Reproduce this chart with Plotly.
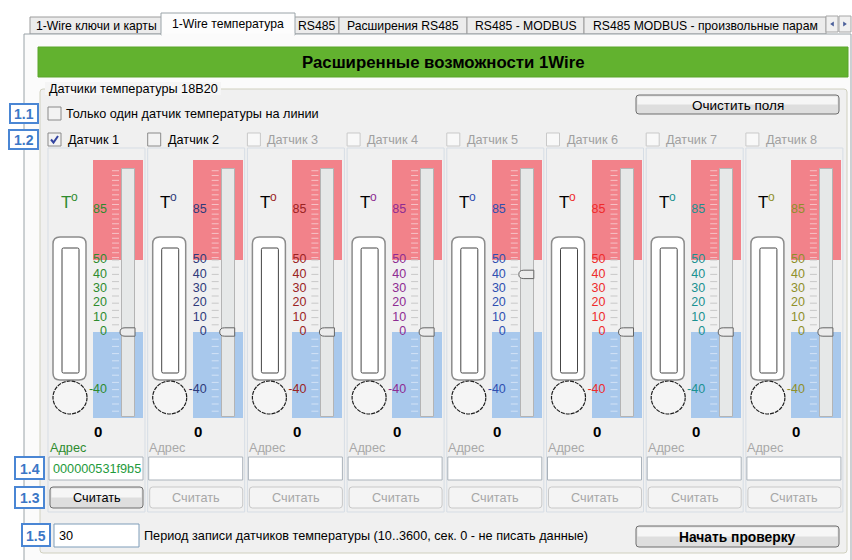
import plotly.graph_objects as go

# ---------------- data ----------------
tab_labels = ["1-Wire ключи и карты", "1-Wire температура", "RS485",
              "Расширения RS485", "RS485 - MODBUS", "RS485 MODBUS - произвольные парам"]
active_tab = 1
header_text = "Расширенные возможности 1Wire"
group_title = "Датчики температуры 18B20"
single_sensor_label = "Только один датчик температуры на линии"
clear_label = "Очистить поля"
start_label = "Начать проверку"
period_value = "30"
period_label = "Период записи датчиков температуры (10..3600, сек. 0 - не писать данные)"
address_caption = "Адрес"
read_label = "Считать"

sensor_names = ["Датчик 1", "Датчик 2", "Датчик 3", "Датчик 4",
                "Датчик 5", "Датчик 6", "Датчик 7", "Датчик 8"]
sensor_checked = [True, False, False, False, False, False, False, False]
sensor_enabled = [True, True, False, False, False, False, False, False]
readings = [0, 0, 0, 0, 0, 0, 0, 0]
slider_values = [0, 0, 0, 0, 40, 0, 0, 0]
addresses = ["000000531f9b5", "", "", "", "", "", "", ""]
scale_labels = [85, 50, 40, 30, 20, 10, 0, -40]
hot_zone = [50, 119.4]
cold_zone = [-59.7, 0]
track_range = [-59.0, 113.0]
callouts = ["1.1", "1.2", "1.3", "1.4", "1.5"]

# ---------------- styles / layout ----------------
W, H = 852, 560
Y_ZERO = 332.0
PX_PER_DEG = 1.44


def T_of(py):
    return (Y_ZERO - py) / PX_PER_DEG


COL_X0 = 48.0
PITCH = 99.7
FONT = "Liberation Sans, Arial, sans-serif"
FS = 12.7
TAB_FS = 12.2
label_colors = ["#2e8b2e", "#2f3a7a", "#9b2323", "#8e2c92",
                "#2f4fb0", "#ee2b2b", "#1a9191", "#8f8f2a"]
tab_edges = [30, 163, 293, 339, 467, 584, 826]
HOT = "#f2828a"
COLD = "#a8c8ec"
PANEL = "#f0f0f0"

shapes, annotations, traces = [], [], []


def rect(x0, y0, x1, y1, fill=None, line=None, lw=1, layer="below", dash=None):
    shapes.append(dict(type="rect", xref="x", yref="y", x0=x0, y0=y0, x1=x1, y1=y1,
                       fillcolor=fill or "rgba(0,0,0,0)",
                       line=dict(color=line or "rgba(0,0,0,0)", width=lw if line else 0,
                                 dash=dash or "solid"),
                       layer=layer))


def rrect(x0, y0, x1, y1, r, fill=None, line=None, lw=1, layer="below", yref="y"):
    p = (f"M {x0+r},{y0} L {x1-r},{y0} Q {x1},{y0} {x1},{y0+r} L {x1},{y1-r} "
         f"Q {x1},{y1} {x1-r},{y1} L {x0+r},{y1} Q {x0},{y1} {x0},{y1-r} "
         f"L {x0},{y0+r} Q {x0},{y0} {x0+r},{y0} Z")
    shapes.append(dict(type="path", path=p, xref="x", yref=yref,
                       fillcolor=fill or "rgba(0,0,0,0)",
                       line=dict(color=line or "rgba(0,0,0,0)", width=lw if line else 0),
                       layer=layer))


def path(p, fill=None, line=None, lw=1, layer="below", yref="y"):
    shapes.append(dict(type="path", path=p, xref="x", yref=yref,
                       fillcolor=fill or "rgba(0,0,0,0)",
                       line=dict(color=line or "rgba(0,0,0,0)", width=lw if line else 0),
                       layer=layer))


def text(x, y, s, size=FS, color="#000000", bold=False, xanchor="left", yanchor="middle"):
    annotations.append(dict(x=x, y=y, xref="x", yref="y",
                            text=f"<b>{s}</b>" if bold else s, showarrow=False,
                            xanchor=xanchor, yanchor=yanchor, borderpad=0,
                            font=dict(size=size, color=color, family=FONT)))


def button(x0, y0, x1, y1, label, enabled=True, bold=False, size=FS):
    if enabled:
        rrect(x0, y0, x1, y1, 3, "#dedede", "#6f6f6f", 1)
        rect(x0 + 1.5, y0 + 1.5, x1 - 1.5, (y0 + y1) / 2, "#f6f6f6")
        col = "#000000"
    else:
        rrect(x0, y0, x1, y1, 3, "#f4f4f4", "#c8c8c8", 1)
        col = "#a7a7a7"
    text((x0 + x1) / 2, (y0 + y1) / 2 + 0.5, label, size, col, bold, xanchor="center")


def checkbox(x0, y0, checked, enabled):
    rect(x0, y0, x0 + 13, y0 + 13, "#f3f3f3" if enabled else "#f8f8f8",
         "#8a8a8a" if enabled else "#c9c9c9", 1)
    if checked:
        path(f"M {x0+3},{y0+6.5} L {x0+5.5},{y0+9.5} L {x0+10},{y0+3}",
             line="#3344a0", lw=2)


def callout(x0, y0, x1, y1, label):
    rect(x0, y0, x1, y1, "#ffffff", "#4a86d4", 2)
    text((x0 + x1) / 2, (y0 + y1) / 2 + 0.5, label, 14, "#3b77c6", True, xanchor="center")


# ---------------- window chrome ----------------
rect(0, 0, W, H, "#ffffff")
for i, lab in enumerate(tab_labels):
    if i == active_tab:
        continue
    x0, x1 = tab_edges[i], tab_edges[i + 1]
    rect(x0, 17, x1, 34, "#ececec", "#9c9c9c", 1)
    text((x0 + x1) / 2, 25.5, lab, TAB_FS, "#000000", xanchor="center")
rect(24, 34, 851, 566, "#fbfbfb", "#9aa3a8", 1)
x0, x1 = tab_edges[active_tab], tab_edges[active_tab + 1]
rect(x0 - 2, 13, x1 + 2, 35, "#fdfdfd", "#9aa3a8", 1)
rect(x0 - 1.5, 33.5, x1 + 1.5, 36, "#fbfbfb")
text((x0 + x1) / 2, 23.5, tab_labels[active_tab], TAB_FS, "#000000", xanchor="center")
for ax0, d in ((826, -1), (839, 1)):
    rect(ax0, 16, ax0 + 12, 32, "#f0f0f0", "#a6a6a6", 1)
    cxa = ax0 + 6
    path(f"M {cxa - 1.8*d},{21.5} L {cxa + 1.8*d},{24} L {cxa - 1.8*d},{26.5} Z",
         fill="#4a5f9a")

rect(38, 47, 848, 77, "#62b22f", "#5aa52a", 1)
text(443, 62.5, header_text, 16.8, "#000000", True, xanchor="center")

rrect(40, 89, 847, 553, 3, PANEL, "#d0d0bf", 1)
rect(45, 82, 221, 95, "#f5f5f5")
text(48, 88.5, group_title, FS, "#000000")

checkbox(48, 107, False, True)
text(65, 113.5, single_sensor_label, FS)
button(636, 95, 839, 114, clear_label, size=13.5)

# ---------------- sensor columns ----------------
for k in range(8):
    cx = COL_X0 + PITCH * k
    en = sensor_enabled[k]
    lc = label_colors[k]
    checkbox(cx, 133, sensor_checked[k], en)
    text(cx + 19, 139.5, sensor_names[k], FS, "#000000" if en else "#a0a0a0")
    rect(cx, 148, cx + 97, 512, PANEL, "#d6dde5", 1)
    # T° symbol
    text(cx + 11.5, 202, "T", 17, lc if k == 0 else "#000000")
    text(cx + 21.5, 196.5, "o", 12, lc)
    rrect(cx + 5, 237, cx + 38, 380, 7, "#ffffff", "#8c8c8c", 1.5)
    rrect(cx + 14, 248, cx + 31, 373, 1.5, "#ffffff", "#454545", 1)
    shapes.append(dict(type="circle", xref="x", yref="y", x0=cx + 5, y0=381,
                       x1=cx + 39, y1=414, fillcolor="#f5f5f5",
                       line=dict(color="#1e1e1e", width=1.2, dash="4px,1px"), layer="below"))
    text(cx + 50, 431.5, str(readings[k]), 15, "#000000", True, xanchor="center")
    text(cx + 0.5, 447.5, address_caption, FS, lc if k == 0 else "#a8a8a8")
    rect(cx + 1, 457, cx + 95, 480, "#ffffff", "#aab2ba", 1)
    if addresses[k]:
        text(cx + 4, 469, addresses[k], FS, "#1e9a3c")
    button(cx + 2, 487, cx + 95, 508, read_label, enabled=(k == 0))

# temperature-scale bars (through y2 = temperature axis)
xs_zone = [COL_X0 + PITCH * k + 70 for k in range(8)]
xs_track = [COL_X0 + PITCH * k + 80.5 for k in range(8)]
traces.append(go.Bar(x=xs_zone, y=[hot_zone[1] - hot_zone[0]] * 8, base=hot_zone[0],
                     width=50, marker=dict(color=HOT, line=dict(width=0)),
                     yaxis="y2", hoverinfo="skip"))
traces.append(go.Bar(x=xs_zone, y=[cold_zone[1] - cold_zone[0]] * 8, base=cold_zone[0],
                     width=50, marker=dict(color=COLD, line=dict(width=0)),
                     yaxis="y2", hoverinfo="skip"))
traces.append(go.Bar(x=xs_track, y=[track_range[1] - track_range[0]] * 8, base=track_range[0],
                     width=13, marker=dict(color="#e6e8e8", line=dict(width=1, color="#b4b4b4")),
                     yaxis="y2", hoverinfo="skip"))

tick_T, tick_c = [], []
t = 112.0
while t > 51:
    tick_T.append(t); tick_c.append("#f6c2c6"); t -= 3.35
for t in (50, 45, 40, 35, 30, 25, 20, 15, 10, 5):
    tick_T.append(t); tick_c.append("#c8c8c8")
for t in (-5, -10, -15, -20, -25, -30, -35, -40, -45, -50, -55):
    tick_T.append(t); tick_c.append("#d2e2f6")
for k in range(8):
    cx = COL_X0 + PITCH * k
    traces.append(go.Scatter(x=[cx + 67.5] * len(tick_T), y=tick_T, mode="markers",
                             marker=dict(symbol="line-ew", size=5,
                                         line=dict(width=1, color=tick_c)),
                             yaxis="y2", hoverinfo="skip"))
    traces.append(go.Scatter(x=[cx + 59] * len(scale_labels), y=scale_labels, mode="text",
                             text=[str(v) for v in scale_labels], textposition="middle left",
                             textfont=dict(size=12.5, color=label_colors[k], family=FONT),
                             yaxis="y2", hoverinfo="skip"))
    v = slider_values[k]
    h = 4.2 / PX_PER_DEG
    path(f"M {cx+87},{v+h} L {cx+77},{v+h} Q {cx+72},{v+h} {cx+72},{v} "
         f"Q {cx+72},{v-h} {cx+77},{v-h} L {cx+87},{v-h} Z",
         fill="#ececec", line="#646464", lw=1, layer="above", yref="y2")

# ---------------- bottom row ----------------
rect(54, 524, 139, 547, "#ffffff", "#7f9db9", 1)
text(58, 535.5, period_value, FS)
text(143, 535.5, period_label, FS)
button(636, 526, 839, 547, start_label, bold=True, size=13.8)

callout(10, 104, 38, 123, callouts[0])
callout(9, 130, 38, 149, callouts[1])
callout(15, 487, 44, 508, callouts[2])
callout(15, 457, 44, 479, callouts[3])
callout(22, 524, 50, 546, callouts[4])

fig = go.Figure(traces)
fig.update_layout(
    width=W, height=H, margin=dict(l=0, r=0, t=0, b=0),
    paper_bgcolor="#ffffff", plot_bgcolor="#ffffff", showlegend=False,
    barmode="overlay", bargap=0,
    xaxis=dict(range=[0, W], visible=False, fixedrange=True),
    yaxis=dict(range=[H, 0], visible=False, fixedrange=True),
    yaxis2=dict(range=[T_of(H), T_of(0)], overlaying="y", visible=False, fixedrange=True),
    shapes=shapes, annotations=annotations,
    font=dict(family=FONT),
)
fig.write_html("out.html", config={"displayModeBar": False},
               post_script="document.body.style.margin='0px';document.body.style.overflow='hidden';")
